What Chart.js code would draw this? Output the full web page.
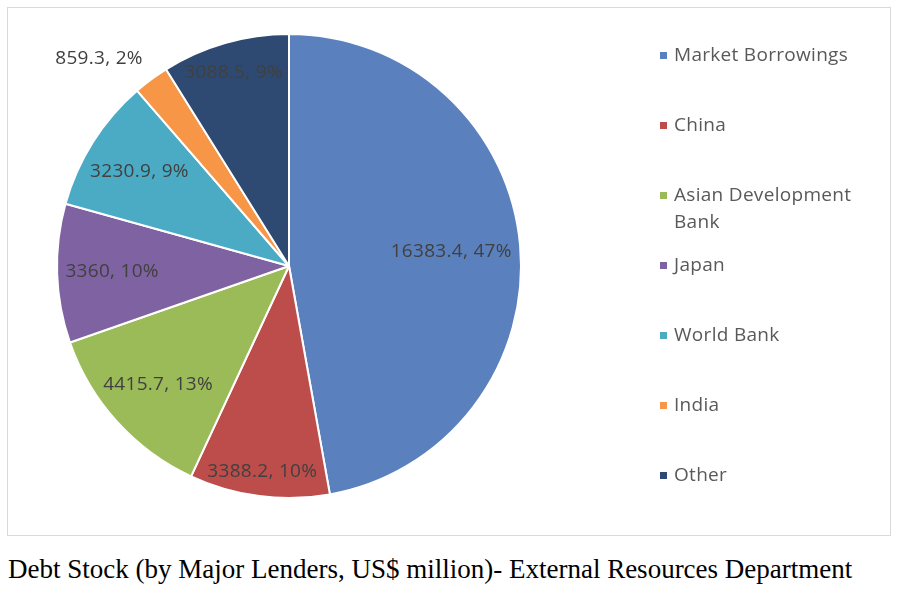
<!DOCTYPE html>
<html>
<head>
<meta charset="utf-8">
<title>Debt Stock by Major Lenders</title>
<script src="https://cdn.jsdelivr.net/npm/chart.js@4/dist/chart.umd.min.js"></script>
<style>
    body {
        margin: 0;
        background: #fff;
        width: 900px;
        height: 601px;
        position: relative;
        overflow: hidden;
    }
    #box {
        position: absolute;
        left: 7px;
        top: 7px;
        width: 882px;
        height: 527px;
        border: 1px solid #d9d9d9;
    }
    #pie {
        position: absolute;
        left: 0;
        top: 0;
    }
    #legend {
        position: absolute;
        left: 652px;
        top: 33px;
        font-family: "Open Sans", sans-serif;
        font-size: 19px;
        letter-spacing: 0.3px;
        color: #595959;
    }
    .item {
        display: flex;
        height: 70px;
        line-height: 27px;
    }
    .mark {
        width: 7px;
        height: 7px;
        margin: 11px 7px 0 0;
        flex: none;
    }
    .txt {
        width: 190px;
    }
    #caption {
        position: absolute;
        left: 8px;
        top: 554px;
        font-family: "Liberation Serif", "Times New Roman", serif;
        font-size: 27px;
        color: #000;
        white-space: nowrap;
    }
</style>
</head>
<body>
<div id="box">
    <canvas id="pie" width="882" height="527"></canvas>
    <div id="legend"></div>
</div>
<div id="caption">Debt Stock (by Major Lenders, US$ million)- External Resources Department</div>

<script>
    "use strict";

    var lenders = ["Market Borrowings", "China", "Asian Development Bank", "Japan", "World Bank", "India", "Other"];
    var debtStock = [16383.4, 3388.2, 4415.7, 3360, 3230.9, 859.3, 3088.5];
    var sliceColors = ["#5b80be", "#bd4d4a", "#9bbb59", "#7f62a1", "#4babc5", "#f79646", "#2e4a72"];

    // Legend
    var legend = document.getElementById("legend");
    lenders.forEach(function (name, i) {
        var item = document.createElement("div");
        item.className = "item";
        var mark = document.createElement("div");
        mark.className = "mark";
        mark.style.background = sliceColors[i];
        var txt = document.createElement("div");
        txt.className = "txt";
        txt.textContent = name;
        item.appendChild(mark);
        item.appendChild(txt);
        legend.appendChild(item);
    });

    // Value + percent labels, best fit: inside near the rim, outside for thin slices
    var sliceLabels = {
        id: "sliceLabels",
        afterDatasetsDraw: function (chart) {
            var ctx = chart.ctx;
            var meta = chart.getDatasetMeta(0);
            var total = debtStock.reduce(function (a, b) { return a + b; }, 0);
            ctx.save();
            ctx.font = "19px 'Open Sans', sans-serif";
            ctx.letterSpacing = "0.3px";
            ctx.fillStyle = "#404040";
            meta.data.forEach(function (arc, i) {
                var p = arc.getProps(["x", "y", "startAngle", "endAngle", "outerRadius"], true);
                var mid = (p.startAngle + p.endAngle) / 2;
                var share = debtStock[i] / total;
                var text = debtStock[i] + ", " + Math.round(share * 100) + "%";
                var cos = Math.cos(mid), sin = Math.sin(mid);
                var r, x, y;
                if (share < 0.05) {
                    r = p.outerRadius * 1.06;
                    x = p.x + cos * r;
                    y = p.y + sin * r;
                    ctx.textAlign = cos < 0 ? "right" : "left";
                    ctx.textBaseline = sin < 0 ? "bottom" : "top";
                } else {
                    var w = ctx.measureText(text).width;
                    var extent = (w / 2) * Math.abs(cos) + 10 * Math.abs(sin);
                    r = p.outerRadius - extent - 8;
                    x = p.x + cos * r;
                    y = p.y + sin * r;
                    ctx.textAlign = "center";
                    ctx.textBaseline = "middle";
                }
                ctx.fillText(text, x, y);
            });
            ctx.restore();
        }
    };

    var ctx = document.getElementById("pie").getContext("2d");
    var pieChart = new Chart(ctx, {
        type: "pie",
        data: {
            labels: lenders,
            datasets: [
                {
                    data: debtStock,
                    backgroundColor: sliceColors,
                    borderColor: "#ffffff",
                    borderWidth: 2,
                },
            ],
        },
        options: {
            responsive: false,
            animation: false,
            layout: {
                padding: { left: 48, top: 25, right: 368, bottom: 36 },
            },
            plugins: {
                legend: { display: false },
                tooltip: { enabled: false },
            },
        },
        plugins: [sliceLabels],
    });
</script>
</body>
</html>
